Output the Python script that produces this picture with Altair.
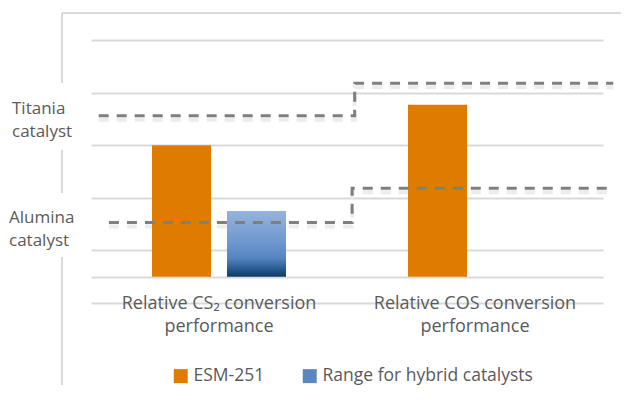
import altair as alt
import pandas as pd

# ---------------- data ----------------
categories = ["Relative CS₂ conversion|performance", "Relative COS conversion|performance"]
series = ["ESM-251", "Range for hybrid catalysts"]
esm_values = [2.5, 3.27]          # ESM-251 bars (CS2, COS)
hybrid_values = [1.25]            # hybrid catalysts (CS2 only)

# catalyst reference step lines; x in category units (0..2)
titania_x = [0.03, 1.03, 2.04]
titania_y = [3.06, 3.68, 3.68]
alumina_x = [0.07, 1.02, 2.03]
alumina_y = [1.03, 1.68, 1.68]

grid_values = [-0.5, 0, 0.5, 1.5, 2.5, 3.5, 4.5]

FONT = "Open Sans"
TEXT = "#5a5a5a"
GRID = "#d9d9d9"
ORANGE = "#df7c00"

bars_df = pd.DataFrame({
    "category": [categories[0], categories[1], categories[0]],
    "series": [series[0], series[0], series[1]],
    "value": esm_values + hybrid_values,
})

lines_df = pd.DataFrame({
    "pos": titania_x + alumina_x,
    "val": titania_y + alumina_y,
    "catalyst": ["Titania"] * 3 + ["Alumina"] * 3,
})

# ---------------- encodings ----------------
x_enc = alt.X(
    "category:N", sort=categories,
    scale=alt.Scale(domain=categories, paddingInner=0, paddingOuter=0),
    axis=alt.Axis(title=None, labelAngle=0, domain=False, ticks=False, tickSize=0,
                  grid=False, labelPadding=5, labelBaseline="alphabetic",
                  labelLineHeight=23, labelExpr="split(datum.label, '|')",
                  labelFontSize=18, labelColor=TEXT, labelLimit=400, labelFont=FONT),
)
xoff_enc = alt.XOffset("series:N", scale=alt.Scale(domain=series, paddingInner=0.213, paddingOuter=0.813))
y_axis = alt.Axis(values=grid_values, grid=True, gridColor=GRID, gridWidth=2,
                  labels=False, ticks=False, domain=False, title=None)
y_scale = alt.Scale(domain=[-0.5, 4.5], nice=False, zero=False)
y_enc = alt.Y("value:Q", scale=y_scale, axis=y_axis)

gradient = alt.LinearGradient(
    gradient="linear",
    stops=[alt.GradientStop(color="#95b4dc", offset=0),
           alt.GradientStop(color="#7199cf", offset=0.45),
           alt.GradientStop(color="#5584c1", offset=0.72),
           alt.GradientStop(color="#2e6097", offset=0.86),
           alt.GradientStop(color="#0b3a66", offset=1)],
    x1=0, x2=0, y1=0, y2=1,
)

base = alt.Chart(bars_df)
bar_esm = base.transform_filter(alt.datum.series == series[0]).mark_bar().encode(
    x=x_enc, xOffset=xoff_enc, y=y_enc, y2=alt.datum(0),
    color=alt.Color("series:N",
                    scale=alt.Scale(domain=series, range=[ORANGE, "#5b87bf"]),
                    legend=alt.Legend(title=None, orient="none", legendX=81, legendY=327,
                                      direction="horizontal", symbolType="square",
                                      symbolSize=196, symbolStrokeWidth=0,
                                      labelFontSize=17.5, labelColor=TEXT, labelFont=FONT,
                                      labelOffset=4, columnPadding=36, labelLimit=400,
                                      padding=0)),
)
bar_hybrid = base.transform_filter(alt.datum.series == series[1]).mark_bar(color=gradient).encode(
    x=x_enc, xOffset=xoff_enc, y=y_enc, y2=alt.datum(0),
)
bars = alt.layer(bar_esm, bar_hybrid)

lx = alt.X("pos:Q", scale=alt.Scale(domain=[0, 2], nice=False, zero=False), axis=None)
ly = alt.Y("val:Q", scale=y_scale, axis=y_axis)
shadow = alt.Chart(lines_df).mark_line(
    color="#ececec", strokeWidth=4, strokeDash=[10, 8], interpolate="step-after", yOffset=4
).encode(x=lx, y=ly, detail="catalyst:N")
dashed = alt.Chart(lines_df).mark_line(
    color="#7f7f7f", strokeWidth=3, strokeDash=[10, 8], interpolate="step-after"
).encode(x=lx, y=ly, detail="catalyst:N")

one = alt.Data(values=[{}])

# frame lines (decoration)
frame_top = alt.Chart(one).mark_rule(color=GRID, strokeWidth=2).encode(
    x=alt.value(-29), x2=alt.value(545), y=alt.value(-27))
frame_segs = [
    alt.Chart(one).mark_rule(color=GRID, strokeWidth=2).encode(
        x=alt.value(-29), y=alt.value(a), y2=alt.value(b))
    for a, b in [(-27, 43), (110, 153), (217, 360)]
]

# side labels
titania_lbl = alt.Chart(one).mark_text(
    align="left", baseline="alphabetic", fontSize=17, color=TEXT, font=FONT, lineHeight=23
).encode(x=alt.value(-79), y=alt.value(74), text=alt.value(["Titania", "catalyst"]))
alumina_lbl = alt.Chart(one).mark_text(
    align="left", baseline="alphabetic", fontSize=17, color=TEXT, font=FONT, lineHeight=23
).encode(x=alt.value(-82), y=alt.value(183), text=alt.value(["Alumina", "catalyst"]))

chart = alt.layer(
    frame_top, *frame_segs, shadow, bars, dashed, titania_lbl, alumina_lbl
).resolve_scale(x="independent").properties(
    width=512, height=263,
    autosize=alt.AutoSizeParams(type="none"),
    padding={"left": 83, "top": 32, "right": 18, "bottom": 82},
).configure(font=FONT, view=alt.ViewConfig(stroke=None))

chart.save("out.html", embed_options={"renderer": "svg", "actions": False})
